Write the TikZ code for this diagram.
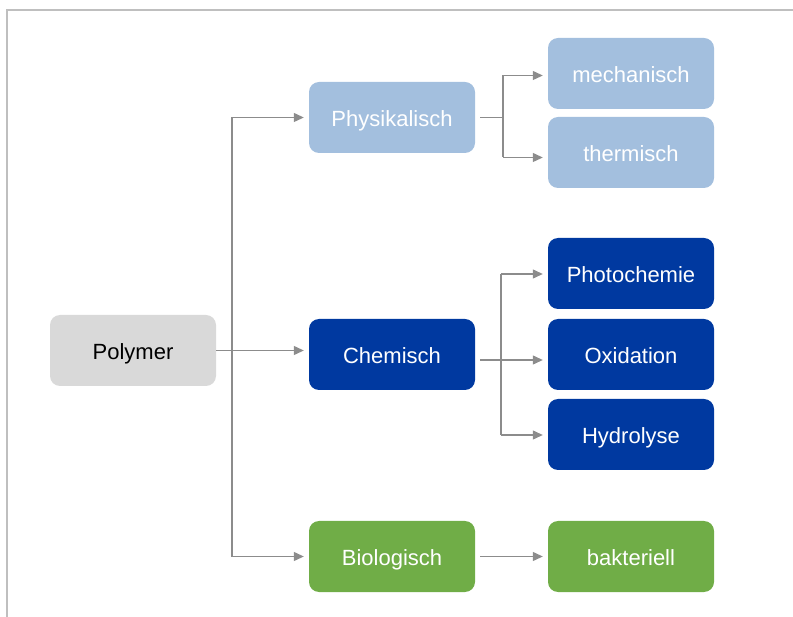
\documentclass[tikz,border=0pt]{standalone}
\usepackage{fontspec}
\setmainfont{Liberation Sans}
\usetikzlibrary{arrows.meta}
\definecolor{lblue}{HTML}{A3BFDE}
\definecolor{dblue}{HTML}{0039A0}
\definecolor{lgreen}{HTML}{70AD47}
\definecolor{lgray}{HTML}{D9D9D9}
\definecolor{linegray}{HTML}{8C8C8C}
\definecolor{framegray}{HTML}{BFBFBF}
\tikzset{
  box/.style={rounded corners=10pt, minimum width=166pt, minimum height=71pt,
    inner sep=0pt, font=\fontsize{22}{24}\selectfont, text=white,
    text height=19pt, text depth=1pt},
  physbox/.style={box, fill=lblue},
  chembox/.style={box, fill=dblue},
  biobox/.style={box, fill=lgreen},
  rootbox/.style={box, fill=lgray, text=black},
  conn/.style={draw=linegray, line width=1.2pt},
  arr/.style={conn, -{Triangle[length=10pt,width=9pt]}, shorten >=5pt},
}
\begin{document}
\begin{tikzpicture}[x=1pt,y=-1pt]
\useasboundingbox (0,0) rectangle (793,617);
\draw[framegray, line width=1.5pt] (793,10) -- (7,10) -- (7,617);

\node[rootbox] (poly) at (133,350.5) {Polymer};
\node[physbox] (phys) at (392,117.5) {Physikalisch};
\node[chembox] (chem) at (392,354.5) {Chemisch};
\node[biobox] (bio) at (392,556.5) {Biologisch};
\node[physbox] (mech) at (631,73.5) {mechanisch};
\node[physbox] (therm) at (631,152.5) {thermisch};
\node[chembox] (photo) at (631,273.5) {Photochemie};
\node[chembox] (oxi) at (631,354.5) {Oxidation};
\node[chembox] (hydro) at (631,434.5) {Hydrolyse};
\node[biobox] (bakt) at (631,556.5) {bakteriell};

% trunk from Polymer
\coordinate (t1) at (232,117.5);
\coordinate (t3) at (232,556.5);
\draw[conn] (t1) -- (t3);
\draw[arr] (t1) -- (phys.west |- t1);
\draw[arr] (poly.east) -- (chem.west |- poly.east);
\draw[arr] (t3) -- (bio.west |- t3);

% Physikalisch branch
\coordinate (p0) at (480,117.5);
\coordinate (p1) at (503,117.5);
\coordinate (pa) at (503,75.5);
\coordinate (pb) at (503,157.5);
\draw[conn] (p0) -- (p1);
\draw[conn] (pa) -- (pb);
\draw[arr] (pa) -- (mech.west |- pa);
\draw[arr] (pb) -- (therm.west |- pb);

% Chemisch branch
\coordinate (c0) at (480,360);
\coordinate (ca) at (501,274);
\coordinate (cb) at (501,435);
\draw[conn] (ca) -- (cb);
\draw[arr] (ca) -- (photo.west |- ca);
\draw[arr] (c0) -- (oxi.west |- c0);
\draw[arr] (cb) -- (hydro.west |- cb);

% Biologisch branch
\coordinate (b0) at (480,556.5);
\draw[arr] (b0) -- (bakt.west |- b0);
\end{tikzpicture}
\end{document}
